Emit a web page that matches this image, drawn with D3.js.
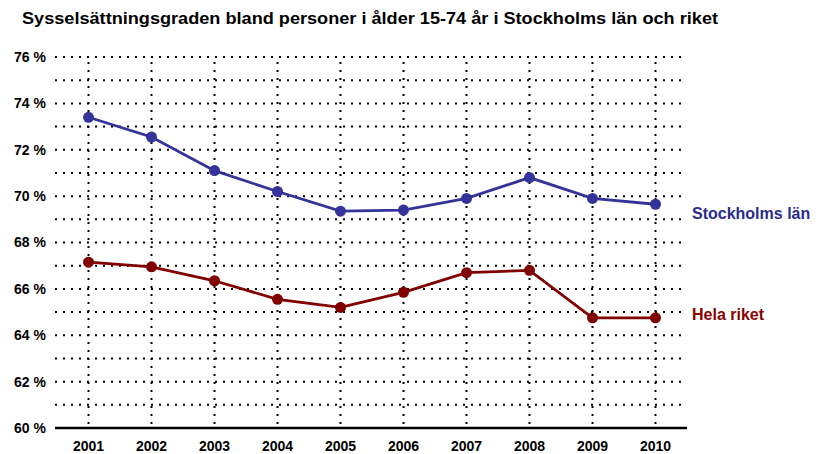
<!DOCTYPE html>
<html>
<head>
<meta charset="utf-8">
<script src="https://cdn.jsdelivr.net/npm/d3@7"></script>
<style>
  body { margin: 0; background: #fff; }
  text { font-family: "Liberation Sans", Arial, sans-serif; font-weight: bold; }
</style>
</head>
<body>
<div id="chart"></div>
<script>
const years = ["2001", "2002", "2003", "2004", "2005", "2006", "2007", "2008", "2009", "2010"];
const stockholm = [73.4, 72.55, 71.1, 70.2, 69.35, 69.4, 69.9, 70.8, 69.9, 69.65];
const riket = [67.15, 66.95, 66.35, 65.55, 65.2, 65.85, 66.7, 66.8, 64.75, 64.75];
const yTicks = [60, 62, 64, 66, 68, 70, 72, 74, 76];
const gridValues = d3.range(61, 77);

const series = [
  { name: "Stockholms län", values: stockholm, color: "#333399", labelColor: "#2b2b8f", dy: 15 },
  { name: "Hela riket", values: riket, color: "#800000", labelColor: "#8b0000", dy: 2 }
];

const width = 830, height = 454;
const margin = { top: 57, right: 143, bottom: 26, left: 57 };

const svg = d3.select("#chart").append("svg")
  .attr("width", width)
  .attr("height", height);

const x = d3.scaleBand().domain(years).range([margin.left, width - margin.right]);
const y = d3.scaleLinear().domain([60, 76]).range([height - margin.bottom, margin.top]);

// title
svg.append("text")
  .attr("x", 22)
  .attr("y", 24)
  .attr("font-size", 16)
  .attr("textLength", 696)
  .attr("lengthAdjust", "spacingAndGlyphs")
  .text("Sysselsättningsgraden bland personer i ålder  15-74 år i Stockholms län och riket");

// dotted horizontal grid
svg.append("g")
  .selectAll("line")
  .data(gridValues)
  .join("line")
  .attr("x1", 55)
  .attr("x2", width - margin.right)
  .attr("y1", d => y(d))
  .attr("y2", d => y(d))
  .attr("stroke", "#000")
  .attr("stroke-width", 2)
  .attr("stroke-dasharray", "2,6");

// dotted vertical grid
svg.append("g")
  .selectAll("line")
  .data(years)
  .join("line")
  .attr("x1", d => x(d) + x.bandwidth() / 2)
  .attr("x2", d => x(d) + x.bandwidth() / 2)
  .attr("y1", y(76) + 5)
  .attr("y2", y(60))
  .attr("stroke", "#000")
  .attr("stroke-width", 2)
  .attr("stroke-dasharray", "2,6");

// x axis
const xAxis = svg.append("g")
  .attr("transform", `translate(0,${y(60)})`)
  .call(d3.axisBottom(x).tickSize(0).tickPadding(13));
xAxis.select(".domain").remove();
xAxis.selectAll("text").attr("font-size", 14).attr("fill", "#000");
svg.append("line")
  .attr("x1", 55)
  .attr("x2", width - margin.right)
  .attr("y1", y(60))
  .attr("y2", y(60))
  .attr("stroke", "#000")
  .attr("stroke-width", 2.5);

// y axis labels
const yAxis = svg.append("g")
  .attr("transform", `translate(50,0)`)
  .call(d3.axisLeft(y).tickValues(yTicks).tickSize(0).tickPadding(4).tickFormat(d => d + " %"));
yAxis.select(".domain").remove();
yAxis.selectAll("text").attr("font-size", 14).attr("fill", "#000");

// lines and markers
const line = d3.line()
  .x((d, i) => x(years[i]) + x.bandwidth() / 2)
  .y(d => y(d));

series.forEach(s => {
  svg.append("path")
    .datum(s.values)
    .attr("d", line)
    .attr("fill", "none")
    .attr("stroke", s.color)
    .attr("stroke-width", 2.8);

  svg.append("g")
    .selectAll("circle")
    .data(s.values)
    .join("circle")
    .attr("cx", (d, i) => x(years[i]) + x.bandwidth() / 2)
    .attr("cy", d => y(d))
    .attr("r", 5.5)
    .attr("fill", s.color);

  svg.append("text")
    .attr("x", 692)
    .attr("y", y(s.values[s.values.length - 1]) + s.dy)
    .attr("font-size", 16)
    .attr("fill", s.labelColor)
    .text(s.name);
});
</script>
</body>
</html>
